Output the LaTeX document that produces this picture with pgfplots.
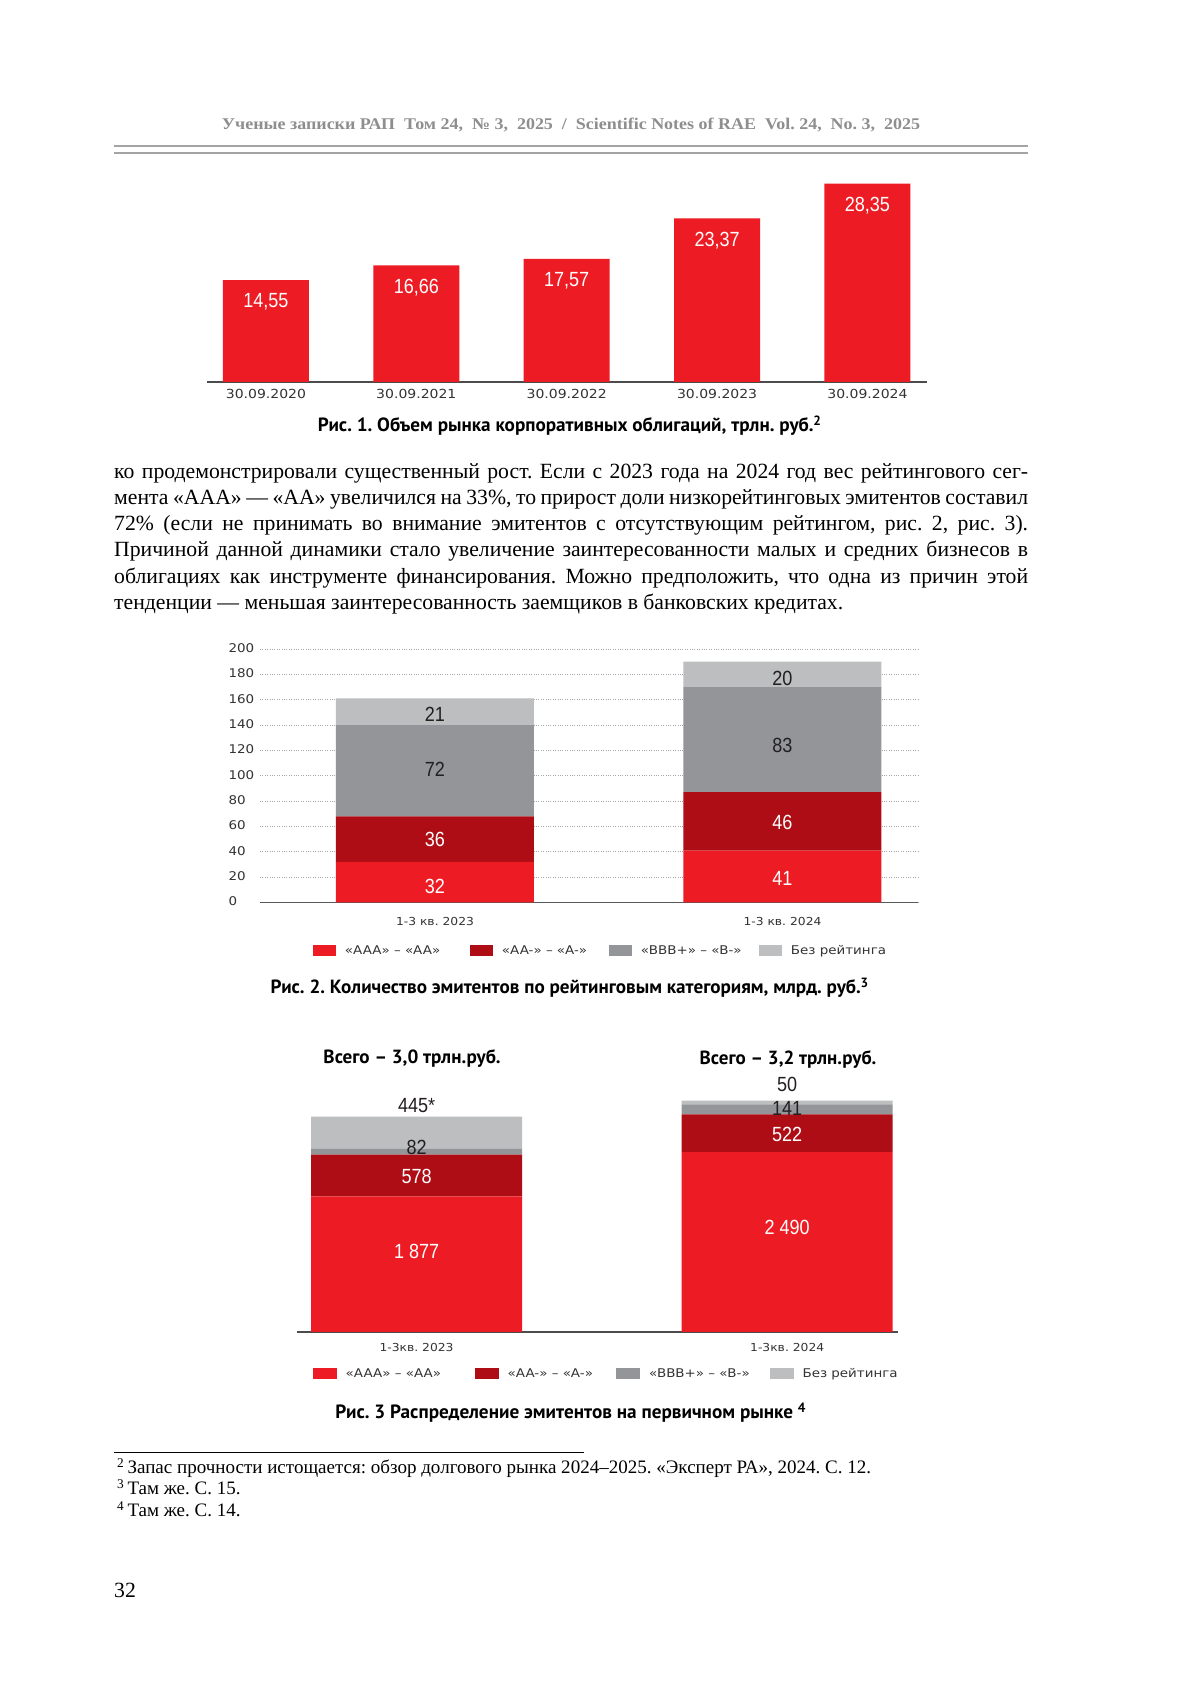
\documentclass[border=0pt]{standalone}
\usepackage{fontspec}
\usepackage{graphicx}
\usepackage{pgfplots}
\pgfplotsset{compat=1.18}
\setmainfont{Liberation Serif}
\newfontfamily\tickfont[FakeStretch=1.12]{DejaVu Sans}
\newfontfamily\valfont[FakeStretch=0.88]{Liberation Sans}
\newfontfamily\capfont{PT Sans}
\definecolor{cred}{HTML}{ED1C24}
\definecolor{cdred}{HTML}{AF0D15}
\definecolor{cgray}{HTML}{939598}
\definecolor{clgray}{HTML}{BCBEC0}
\definecolor{hdr}{HTML}{8E8E8E}
\definecolor{ink}{HTML}{231F20}
\newcommand\fs[1]{\fontsize{#1}{#1}\selectfont}
\tikzset{vl/.style={font=\valfont\fs{20.5}, inner sep=0pt}}
\pgfplotsset{
  sqlegA/.style={legend image code/.code={\fill[##1] (0pt,-5.5pt) rectangle (23pt,5.5pt);}},
  sqlegB/.style={legend image code/.code={\fill[##1] (0pt,-5.5pt) rectangle (24pt,5.5pt);}},
}
\frenchspacing
\begin{document}
\begin{tikzpicture}[x=1pt,y=1pt]
\fill[white] (0,0) rectangle (1200,1697);
\useasboundingbox (0,0) rectangle (1200,1697);
% header
\node[anchor=base, inner sep=0, text=hdr] at (571,1567.6) {\resizebox{698pt}{11.5pt}{\bfseries Ученые записки РАП\enspace Том 24,\enspace №~3,\enspace 2025\enspace /\enspace Scientific Notes of RAE\enspace Vol.~24,\enspace No.~3,\enspace 2025}};
\draw[line width=2pt, hdr!80] (114,1551) -- (1028,1551);
\draw[line width=2pt, hdr!80] (114,1544.4) -- (1028,1544.4);

% ---------- Chart 1 ----------
\begin{axis}[at={(207pt,1315pt)}, anchor=south west, scale only axis,
  width=720pt, height=210pt, xmin=-0.392, xmax=4.396, ymin=0, ymax=30, clip=false,
  axis x line=bottom, axis y line=none, axis line style={-},
  x axis line style={draw=black!70, line width=1.5pt},
  ybar, bar width=86pt,
  xtick={0,1,2,3,4}, xticklabels={30.09.2020,30.09.2021,30.09.2022,30.09.2023,30.09.2024},
  major tick length=0pt, ytick=\empty,
  xticklabel style={anchor=base, yshift=-17pt, inner sep=0pt, font=\tickfont\fs{12.5}, text=black!80},
  nodes near coords,
  every node near coord/.append style={anchor=center, yshift=-22pt, text=white, font=\valfont\fs{20.5}},
  /pgf/number format/.cd, assume math mode=true, use comma, fixed, fixed zerofill, precision=2]
\addplot[fill=cred, draw=none] coordinates {(0,14.55) (1,16.66) (2,17.57) (3,23.37) (4,28.35)};
\end{axis}
\node[anchor=base, inner sep=0] at (570,1265) {\resizebox{504pt}{!}{\capfont\bfseries Рис. 1. Объем рынка корпоративных облигаций, трлн. руб.\textsuperscript{2}}};

% ---------- body text ----------
\begin{scope}[every node/.style={anchor=base west, inner sep=0pt, font=\fontsize{21.7}{26.2}\selectfont}]
\node at (114,1218.7) {\makebox[914pt][s]{ко продемонстрировали существенный рост. Если с 2023 года на 2024 год вес рейтингового сег-}};
\node at (114,1192.5) {\makebox[914pt][s]{мента «AAA» — «AA» увеличился на 33\%, то прирост доли низкорейтинговых эмитентов составил}};
\node at (114,1166.3) {\makebox[914pt][s]{72\% (если не принимать во внимание эмитентов с отсутствующим рейтингом, рис. 2, рис. 3).}};
\node at (114,1140.1) {\makebox[914pt][s]{Причиной данной динамики стало увеличение заинтересованности малых и средних бизнесов в}};
\node at (114,1113.9) {\makebox[914pt][s]{облигациях как инструменте финансирования. Можно предположить, что одна из причин этой}};
\node at (114,1087.7) {тенденции — меньшая заинтересованность заемщиков в банковских кредитах.};
\end{scope}

% ---------- Chart 2 ----------
\begin{axis}[at={(260pt,794.5pt)}, anchor=south west, scale only axis,
  width=658pt, height=253.5pt, xmin=-0.5036, xmax=1.39, ymin=0, ymax=200, clip=false,
  ybar stacked, bar width=198pt,
  axis x line=bottom, axis y line=left, axis line style={-},
  y axis line style={draw=none}, x axis line style={draw=black!65, line width=1.3pt},
  ytick={0,20,...,200}, ymajorgrids, grid style={dotted, line width=0.7pt, black!35},
  xtick={0,1}, xticklabels={1-3 кв. 2023,1-3 кв. 2024}, major tick length=0pt,
  xticklabel style={anchor=base, yshift=-23pt, inner sep=0pt, font=\tickfont\fs{11}, text=black!80},
  yticklabel style={anchor=base west, xshift=-31.7pt, yshift=-3.5pt, inner sep=0pt, font=\tickfont\fs{12}, text=black!80},
  sqlegA, legend cell align=left,
  legend style={at={(axis description cs:0.0805,-0.1913)}, anchor=west, draw=none, fill=none,
    inner sep=0pt, outer sep=0pt, legend columns=4, font=\tickfont\fs{12}, text=black!80,
    /tikz/every odd column/.append style={column sep=7pt}},
  /pgf/number format/assume math mode=true]
\addplot[fill=cred, draw=none] coordinates {(0,32) (1,41)};
\addplot[fill=cdred, draw=none] coordinates {(0,36) (1,46)};
\addplot[fill=cgray, draw=none] coordinates {(0,72) (1,83)};
\addplot[fill=clgray, draw=none] coordinates {(0,21) (1,20)};
\addlegendentry{\makebox[123pt][l]{«AAA» – «AA»}}
\addlegendentry{\makebox[105pt][l]{«AA-» – «A-»}}
\addlegendentry{\makebox[116pt][l]{«BBB+» – «B-»}}
\addlegendentry{Без рейтинга}
\coordinate (p1) at (axis cs:0,13);
\coordinate (p2) at (axis cs:0,49.5);
\coordinate (p3) at (axis cs:0,105);
\coordinate (p4) at (axis cs:0,148.6);
\coordinate (p5) at (axis cs:1,18.8);
\coordinate (p6) at (axis cs:1,63.2);
\coordinate (p7) at (axis cs:1,123.8);
\coordinate (p8) at (axis cs:1,176.7);
\end{axis}
\node[vl, text=white] at (p1) {32};
\node[vl, text=white] at (p2) {36};
\node[vl, text=ink] at (p3) {72};
\node[vl, text=ink] at (p4) {21};
\node[vl, text=white] at (p5) {41};
\node[vl, text=white] at (p6) {46};
\node[vl, text=ink] at (p7) {83};
\node[vl, text=ink] at (p8) {20};
\node[anchor=base, inner sep=0] at (570,703) {\resizebox{598.5pt}{!}{\capfont\bfseries Рис. 2. Количество эмитентов по рейтинговым категориям, млрд. руб.\textsuperscript{3}}};

% ---------- Chart 3 ----------
\node[anchor=base, inner sep=0] at (412,633) {\resizebox{177pt}{!}{\capfont\bfseries Всего – 3,0 трлн.руб.}};
\node[anchor=base, inner sep=0] at (788,632) {\resizebox{176.5pt}{!}{\capfont\bfseries Всего – 3,2 трлн.руб.}};
\begin{axis}[at={(296.5pt,365pt)}, anchor=south west, scale only axis,
  width=601.5pt, height=238.3pt, xmin=-0.324, xmax=1.299, ymin=0, ymax=3300, clip=false,
  ybar stacked, bar width=211pt,
  axis x line=bottom, axis y line=none, axis line style={-},
  x axis line style={draw=black!70, line width=1.5pt},
  ytick=\empty, xtick={0,1}, xticklabels={1-3кв. 2023,1-3кв. 2024}, major tick length=0pt,
  xticklabel style={anchor=base, yshift=-19.5pt, inner sep=0pt, font=\tickfont\fs{11}, text=black!80},
  sqlegB, legend cell align=left,
  legend style={at={(axis description cs:0.027,-0.176)}, anchor=west, draw=none, fill=none,
    inner sep=0pt, outer sep=0pt, legend columns=4, font=\tickfont\fs{12}, text=black!80,
    /tikz/every odd column/.append style={column sep=7pt}},
  /pgf/number format/assume math mode=true]
\addplot[fill=cred, draw=none] coordinates {(0,1877) (1,2490)};
\addplot[fill=cdred, draw=none] coordinates {(0,578) (1,522)};
\addplot[fill=cgray, draw=none] coordinates {(0,82) (1,141)};
\addplot[fill=clgray, draw=none] coordinates {(0,445) (1,50)};
\addlegendentry{\makebox[127pt][l]{«AAA» – «AA»}}
\addlegendentry{\makebox[106.3pt][l]{«AA-» – «A-»}}
\addlegendentry{\makebox[118.5pt][l]{«BBB+» – «B-»}}
\addlegendentry{Без рейтинга}
\coordinate (q1) at (axis cs:0,1122);
\coordinate (q2) at (axis cs:0,2160);
\coordinate (q3) at (axis cs:0,2562);
\coordinate (q4) at (axis cs:0,3130);
\coordinate (q5) at (axis cs:1,1454);
\coordinate (q6) at (axis cs:1,2742);
\coordinate (q7) at (axis cs:1,3089);
\coordinate (q8) at (axis cs:1,3435);
\end{axis}
\node[vl, text=white] at (q1) {1 877};
\node[vl, text=white] at (q2) {578};
\node[vl, text=ink] at (q3) {82};
\node[vl, text=ink] at (q4) {445*};
\node[vl, text=white] at (q5) {2 490};
\node[vl, text=white] at (q6) {522};
\node[vl, text=ink] at (q7) {141};
\node[vl, text=ink] at (q8) {50};
\node[anchor=base, inner sep=0] at (571,278) {\resizebox{471pt}{!}{\capfont\bfseries Рис. 3 Распределение эмитентов на первичном рынке \textsuperscript{4}}};

% ---------- footnotes ----------
\draw[line width=1pt, black] (114,244) -- (584,244);
\begin{scope}[every node/.style={anchor=base west, inner sep=0pt, font=\fs{19}}]
\node at (117,223.5) {\resizebox{754pt}{!}{\textsuperscript{2}\,Запас прочности истощается: обзор долгового рынка 2024–2025. «Эксперт РА», 2024. С. 12.}};
\node at (117,202) {\textsuperscript{3}\,Там же. С. 15.};
\node at (117,180.3) {\textsuperscript{4}\,Там же. С. 14.};
\node[font=\fs{21.7}] at (114,99) {32};
\end{scope}
\end{tikzpicture}
\end{document}
